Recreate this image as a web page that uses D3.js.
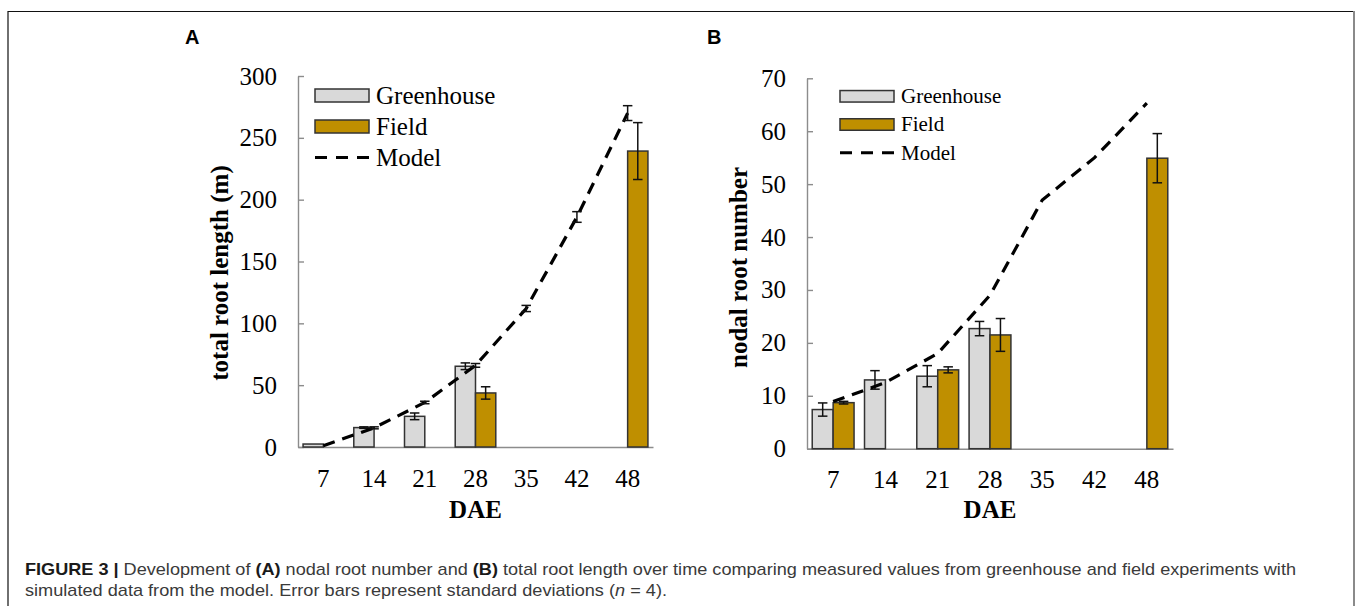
<!DOCTYPE html>
<html>
<head>
<meta charset="utf-8">
<script src="https://cdn.jsdelivr.net/npm/d3@7"></script>
<style>
  body { margin: 0; background: #fff; }
  svg text { font-family: "Liberation Serif", "Times New Roman", serif; fill: #000; }
  .axis path, .axis line { stroke: #8c8c8c; stroke-width: 1.4px; }
  .axis text { font-size: 25px; }
  .panel-letter { font-family: "Liberation Sans", Arial, sans-serif !important; font-weight: bold; font-size: 20px; }
  .caption { font-family: "Liberation Sans", Arial, sans-serif !important; font-size: 17px; fill: #3a3a3a !important; }
  .caption .bold { font-weight: bold; fill: #1a1a1a; }
</style>
</head>
<body>
<div id="figure"></div>
<script>
// x categories (days after emergence)
const days = ['7', '14', '21', '28', '35', '42', '48'];

// panel A: total root length (m)
const lengthGreenhouse   = [2.4, 15.7, 24.8, 65.3, null, null, null];
const lengthGreenhouseSd = [0, 0.6, 2.7, 2.7, null, null, null];
const lengthField        = [null, null, null, 43.7, null, null, 239.3];
const lengthFieldSd      = [null, null, null, 5, null, null, 23];
const lengthModel        = [1, 15.5, 36, 66, 112, 186, 270];
const lengthModelSd      = [0, 0.8, 1, 1.5, 2.5, 4.3, 6];

// panel B: nodal root number
const numberGreenhouse   = [7.4, 13.0, 13.7, 22.7, null, null, null];
const numberGreenhouseSd = [1.25, 1.75, 2.0, 1.35, null, null, null];
const numberField        = [8.7, null, 14.9, 21.5, null, null, 54.9];
const numberFieldSd      = [0.25, null, 0.57, 3.1, null, null, 4.65];
const numberModel        = [8.9, 12.5, 18, 29, 47, 55, 65.3];

const seriesNames = ['Greenhouse', 'Field', 'Model'];
const colors = {Greenhouse: '#d9d9d9', Field: '#bf8f00'};

const svg = d3.select('#figure').append('svg')
    .attr('width', 1357)
    .attr('height', 606);

class RootChart {

    constructor(_config, _data) {
        this.config = {
            left: _config.left,
            right: _config.right,
            top: _config.top,
            bottom: _config.bottom,
            yMax: _config.yMax,
            yStep: _config.yStep,
            yTitle: _config.yTitle,
            yTitleX: _config.yTitleX,
            yTitleY: _config.yTitleY,
            legendX: _config.legendX,
            legendY: _config.legendY,
            legendGap: _config.legendGap,
            legendFont: _config.legendFont,
            swatchH: _config.swatchH,
            swatchW: 54,
            capWidth: 9.5
        };
        this.data = _data;
        this.initVis();
    }

    initVis() {
        let vis = this;
        const c = vis.config;

        vis.xScale = d3.scaleBand().domain(days).range([c.left, c.right]);
        vis.subScale = d3.scaleBand().domain(['Greenhouse', 'Field'])
            .range([0, vis.xScale.bandwidth()])
            .paddingOuter(0.25);
        vis.yScale = d3.scaleLinear().domain([0, c.yMax]).range([c.bottom, c.top]);

        vis.g = svg.append('g');
        vis.renderVis();
        vis.renderLegend();
    }

    renderVis() {
        let vis = this;
        const c = vis.config;

        // axes
        vis.g.append('g')
            .attr('class', 'axis y-axis')
            .attr('transform', `translate(${c.left},0)`)
            .call(d3.axisLeft(vis.yScale)
                .tickValues(d3.range(0, c.yMax + 0.001, c.yStep))
                .tickSize(-6)
                .tickSizeOuter(0)
                .tickPadding(21));

        vis.g.append('g')
            .attr('class', 'axis x-axis')
            .attr('transform', `translate(0,${c.bottom})`)
            .call(d3.axisBottom(vis.xScale).tickSize(0).tickPadding(22));

        vis.g.selectAll('.axis text').attr('fill', '#000');

        // bars
        const bars = [];
        ['Greenhouse', 'Field'].forEach(name => {
            vis.data[name].forEach((v, i) => {
                if (v !== null) bars.push({name, day: days[i], value: v, sd: vis.data[name + 'Sd'][i]});
            });
        });

        vis.g.selectAll('.bar')
            .data(bars)
            .join('rect')
            .attr('class', 'bar')
            .attr('x', d => vis.xScale(d.day) + vis.subScale(d.name))
            .attr('y', d => vis.yScale(d.value))
            .attr('width', vis.subScale.bandwidth())
            .attr('height', d => c.bottom - vis.yScale(d.value))
            .attr('fill', d => colors[d.name])
            .attr('stroke', '#333')
            .attr('stroke-width', 1.5);

        const barErrors = bars.filter(d => d.sd)
            .map(d => ({x: vis.xScale(d.day) + vis.subScale(d.name) + vis.subScale.bandwidth() / 2, value: d.value, sd: d.sd}));
        vis.drawErrors(barErrors);

        // model line
        const modelPts = vis.data.Model.map((v, i) => ({x: vis.xScale(days[i]) + vis.xScale.bandwidth() / 2, value: v, sd: vis.data.ModelSd ? vis.data.ModelSd[i] : 0}));

        vis.g.append('path')
            .datum(modelPts)
            .attr('fill', 'none')
            .attr('stroke', '#000')
            .attr('stroke-width', 3.2)
            .attr('stroke-dasharray', '12 8')
            .attr('d', d3.line().x(d => d.x).y(d => vis.yScale(d.value)));

        vis.drawErrors(modelPts.filter(d => d.sd));

        // titles
        vis.g.append('text')
            .attr('transform', `translate(${c.yTitleX},${c.yTitleY}) rotate(-90)`)
            .attr('text-anchor', 'middle')
            .style('font-size', '25px')
            .style('font-weight', 'bold')
            .text(c.yTitle);

        vis.g.append('text')
            .attr('x', (c.left + c.right) / 2)
            .attr('y', 518)
            .attr('text-anchor', 'middle')
            .style('font-size', '25px')
            .style('font-weight', 'bold')
            .text('DAE');
    }

    drawErrors(points) {
        let vis = this;
        const half = vis.config.capWidth / 2;
        const eg = vis.g.append('g')
            .attr('stroke', '#111')
            .attr('stroke-width', 1.5);
        points.forEach(d => {
            const y0 = vis.yScale(d.value - d.sd), y1 = vis.yScale(d.value + d.sd);
            eg.append('line').attr('x1', d.x).attr('x2', d.x).attr('y1', y0).attr('y2', y1);
            eg.append('line').attr('x1', d.x - half).attr('x2', d.x + half).attr('y1', y0).attr('y2', y0);
            eg.append('line').attr('x1', d.x - half).attr('x2', d.x + half).attr('y1', y1).attr('y2', y1);
        });
    }

    renderLegend() {
        let vis = this;
        const c = vis.config;

        const cell = vis.g.selectAll('.legend-cell')
            .data(seriesNames)
            .join('g')
            .attr('class', 'legend-cell')
            .attr('transform', (d, i) => `translate(${c.legendX},${c.legendY + i * c.legendGap})`);

        cell.filter(d => d !== 'Model').append('rect')
            .attr('y', -c.swatchH / 2)
            .attr('width', c.swatchW)
            .attr('height', c.swatchH)
            .attr('fill', d => colors[d])
            .attr('stroke', '#333')
            .attr('stroke-width', 1.5);

        cell.filter(d => d === 'Model').append('line')
            .attr('x1', 0)
            .attr('x2', c.swatchW)
            .attr('stroke', '#000')
            .attr('stroke-width', 3)
            .attr('stroke-dasharray', '12 9');

        cell.append('text')
            .attr('x', c.swatchW + 7)
            .attr('dy', '0.33em')
            .style('font-size', c.legendFont + 'px')
            .text(d => d);
    }
}

new RootChart({
    left: 298, right: 653, top: 76, bottom: 447,
    yMax: 300, yStep: 50,
    yTitle: 'total root length (m)', yTitleX: 228, yTitleY: 273,
    legendX: 315, legendY: 95.5, legendGap: 31, legendFont: 25, swatchH: 13
}, {
    Greenhouse: lengthGreenhouse, GreenhouseSd: lengthGreenhouseSd,
    Field: lengthField, FieldSd: lengthFieldSd,
    Model: lengthModel, ModelSd: lengthModelSd
});

new RootChart({
    left: 807, right: 1173, top: 78.3, bottom: 448.7,
    yMax: 70, yStep: 10,
    yTitle: 'nodal root number', yTitleX: 747, yTitleY: 267.5,
    legendX: 840, legendY: 96.3, legendGap: 28.2, legendFont: 21, swatchH: 11.5
}, {
    Greenhouse: numberGreenhouse, GreenhouseSd: numberGreenhouseSd,
    Field: numberField, FieldSd: numberFieldSd,
    Model: numberModel
});

// panel letters
svg.append('text').attr('class', 'panel-letter').attr('x', 185).attr('y', 44).text('A');
svg.append('text').attr('class', 'panel-letter').attr('x', 707).attr('y', 44).text('B');

// frame
svg.append('path')
    .attr('d', 'M8,606 V11.5 H1354')
    .attr('fill', 'none')
    .attr('stroke', '#111')
    .attr('stroke-width', 1.2);
svg.append('line')
    .attr('x1', 1354).attr('x2', 1354).attr('y1', 11).attr('y2', 606)
    .attr('stroke', '#8a8a8a')
    .attr('stroke-width', 2);

// caption
const cap1 = svg.append('text').attr('class', 'caption')
    .attr('x', 25).attr('y', 575)
    .attr('textLength', 1271).attr('lengthAdjust', 'spacingAndGlyphs');
cap1.append('tspan').attr('class', 'bold').text('FIGURE 3 | ');
cap1.append('tspan').text('Development of ');
cap1.append('tspan').attr('class', 'bold').text('(A)');
cap1.append('tspan').text(' nodal root number and ');
cap1.append('tspan').attr('class', 'bold').text('(B)');
cap1.append('tspan').text(' total root length over time comparing measured values from greenhouse and field experiments with');

const cap2 = svg.append('text').attr('class', 'caption')
    .attr('x', 25).attr('y', 596)
    .attr('textLength', 642).attr('lengthAdjust', 'spacingAndGlyphs');
cap2.append('tspan').text('simulated data from the model. Error bars represent standard deviations (');
cap2.append('tspan').style('font-style', 'italic').text('n');
cap2.append('tspan').text(' = 4).');
</script>
</body>
</html>
